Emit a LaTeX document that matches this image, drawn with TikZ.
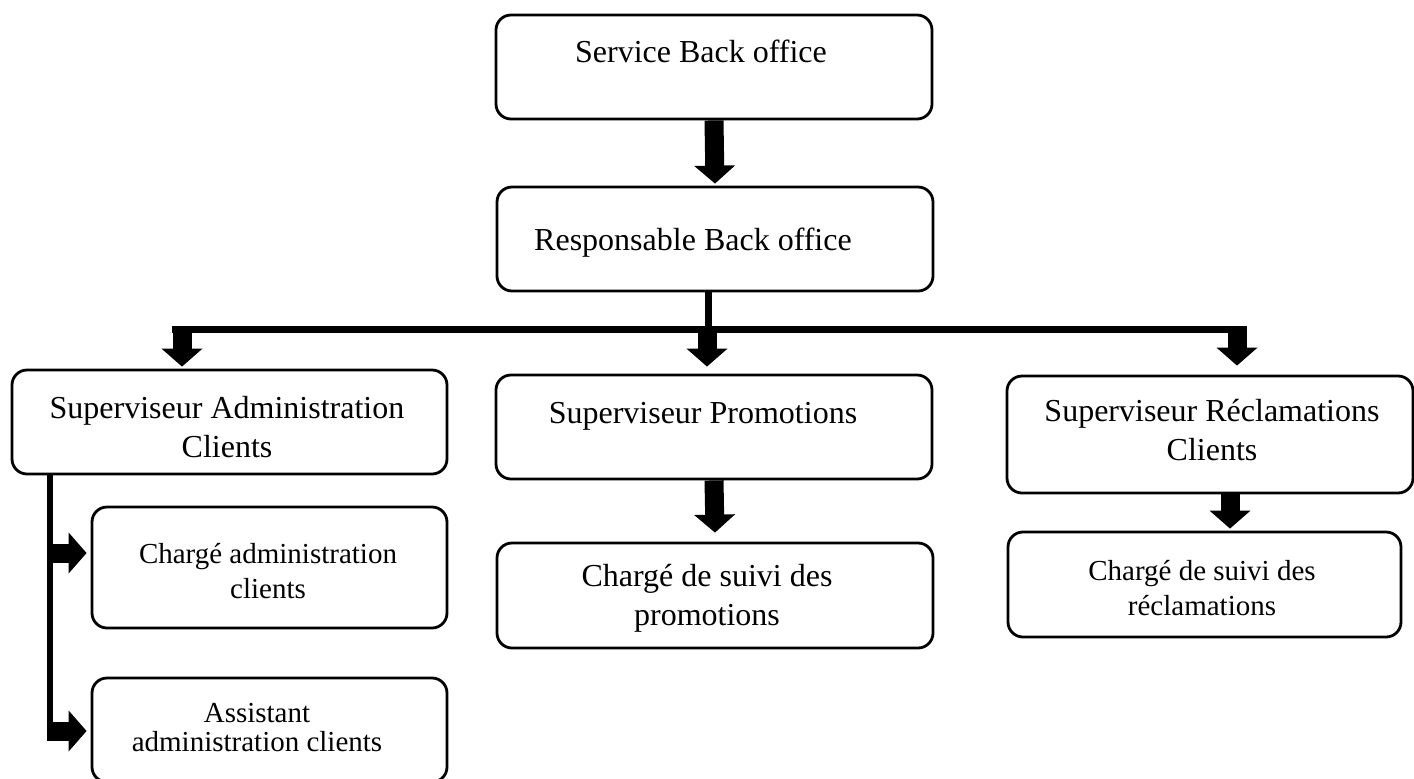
\documentclass[tikz,border=0pt]{standalone}
\usepackage{fontspec}
\setmainfont{Liberation Serif}
\usetikzlibrary{arrows.meta}

\tikzset{
  box/.style={draw=black, line width=1.4pt, rounded corners=7.5pt, fill=white, inner sep=0pt},
  lbl/.style={align=center, inner sep=0pt, anchor=base, font=\fontsize{16}{19.5}\selectfont},
  lblsm/.style={align=center, inner sep=0pt, anchor=base, font=\fontsize{14.5}{17.5}\selectfont},
  blockarrow/.style={draw=black, line width=9.5pt, -{Triangle[width=20pt,length=9pt]}},
  busline/.style={draw=black, line width=3.5pt},
  spine/.style={draw=black, line width=3pt}
}

\begin{document}
\begin{tikzpicture}[x=0.5pt,y=-0.5pt]
\useasboundingbox (0,0) rectangle (1414,778);
\clip (0,0) rectangle (1414,778);

% boxes
\node[box, minimum width=218pt, minimum height=52pt] (sbo) at (714,67) {};
\node[box, minimum width=218pt, minimum height=52pt] (rbo) at (715,239) {};
\node[box, minimum width=217.5pt, minimum height=52pt] (sac) at (229.5,422) {};
\node[box, minimum width=218pt, minimum height=52pt] (spr) at (714,427) {};
\node[box, minimum width=203pt, minimum height=58.5pt] (src) at (1210,434.5) {};
\node[box, minimum width=177.5pt, minimum height=60.5pt] (ca) at (269.5,567.5) {};
\node[box, minimum width=177.5pt, minimum height=52pt] (aa) at (269.5,730) {};
\node[box, minimum width=218pt, minimum height=52.5pt] (cp) at (715,595.5) {};
\node[box, minimum width=196.5pt, minimum height=52.5pt] (cr) at (1204.5,584.5) {};

% labels (base anchor sits on the last line)
\node[lbl] (tsbo) at (701,62) {Service Back office};
\node[lbl] (trbo) at (693,250) {Responsable Back office};
\node[lbl] (tsac) at (227,457) {Superviseur Administration\\Clients};
\node[lbl] (tspr) at (703,423) {Superviseur Promotions};
\node[lbl] (tsrc) at (1212,460) {Superviseur Réclamations\\Clients};
\node[lblsm] (tca) at (268,598) {Chargé administration\\clients};
\node[lblsm, font=\fontsize{14.5}{14.5}\selectfont] (taa) at (257,751) {Assistant\\administration clients};
\node[lbl] (tcp) at (707,625) {Chargé de suivi des\\promotions};
\node[lblsm] (tcr) at (1202,615) {Chargé de suivi des\\réclamations};

% junction points
\coordinate (hub) at (708.5,329);
\coordinate (busL) at (172,329);
\coordinate (busR) at (1247,329);
\coordinate (jL) at (182,326);
\coordinate (jM) at (707,326);
\coordinate (jR) at (1237,326);
\coordinate (kR) at (1230,0);
\coordinate (sp) at (50,0);
\coordinate (spEnd) at (50,740);
\coordinate (a1) at (47,553);
\coordinate (a2) at (47,731);

% connectors
\draw[blockarrow] (sbo.south) -- ([yshift=1pt]rbo.north);
\draw[busline] (rbo.south -| hub) -- (hub);
\draw[busline] (busL) -- (busR);
\draw[blockarrow] (jL) -- ([yshift=1pt]jL |- sac.north);
\draw[blockarrow] (jM) -- ([yshift=3.5pt]jM |- spr.north);
\draw[blockarrow] (jR) -- ([yshift=4.5pt]jR |- src.north);
\draw[blockarrow] (spr.south) -- ([yshift=4.5pt]cp.north);
\draw[blockarrow] (src.south -| kR) -- ([yshift=1pt]cr.north -| kR);
\draw[spine] (sac.south -| sp) -- (spEnd);
\draw[blockarrow] (a1) -- ([xshift=-2pt]a1 -| ca.west);
\draw[blockarrow] (a2) -- ([xshift=-2pt]a2 -| aa.west);
\end{tikzpicture}
\end{document}
